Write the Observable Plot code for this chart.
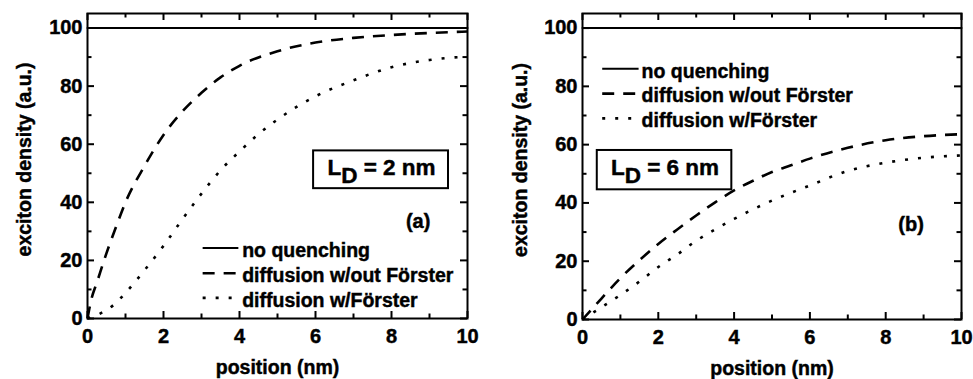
<!DOCTYPE html>
<html><head><meta charset="utf-8">
<script src="https://cdn.jsdelivr.net/npm/d3@7"></script>
<script src="https://cdn.jsdelivr.net/npm/@observablehq/plot@0.6"></script>
<style>
body{margin:0;background:#fff;}
#wrap{display:flex;width:973px;height:379px;overflow:hidden;}
</style></head><body><div id="wrap"></div>
<script>
// ---------- data ----------
const xMajorTicks = [0, 2, 4, 6, 8, 10];
const xMinorTicks = [1, 3, 5, 7, 9];
const yMajorTicks = [0, 20, 40, 60, 80, 100];
const yMinorTicks = [10, 30, 50, 70, 90];
const seriesNames = ["no quenching", "diffusion w/out Förster", "diffusion w/Förster"];
const xLabel = "position (nm)";
const yLabel = "exciton density (a.u.)";
const panelLabels = ["(a)", "(b)"];
const diffLengths = ["2 nm", "6 nm"];

const noQuenchX = [0, 10];
const noQuenchY = [100, 100];

// panel (a), L_D = 2 nm
const posA_noF = [0, 0.1, 0.25, 0.5, 0.75, 1, 1.5, 2, 2.5, 3, 3.5, 4, 5, 6, 7, 8, 9, 10];
const denA_noF = [0, 6.5, 12.5, 22.5, 31.5, 40, 52.5, 63.2, 71.3, 77.7, 83, 87, 92, 95, 96.6, 97.6, 98.3, 98.8];
const posA_F = [0, 0.3, 0.7, 1, 1.5, 2, 2.5, 3, 3.5, 4, 4.5, 5, 6, 7, 8, 9, 10];
const denA_F = [0, 1.5, 4.8, 8.8, 16.6, 25, 34.2, 43, 51, 57.5, 63.5, 68.5, 76.5, 82, 86.5, 89, 90.2];

// panel (b), L_D = 6 nm
const posB_noF = [0, 0.5, 1, 1.5, 2, 2.5, 3, 3.5, 4, 4.5, 5, 5.5, 6, 7, 8, 9, 10];
const denB_noF = [0, 7.2, 14.2, 20.3, 25.9, 30.9, 35.7, 40.2, 44.3, 47.6, 50.6, 52.9, 55.2, 58.9, 61.5, 62.9, 63.6];
const posB_F = [0, 0.5, 1, 1.5, 2, 2.5, 3, 3.5, 4, 4.5, 5, 6, 7, 8, 9, 10];
const denB_F = [0, 4.2, 8.4, 13, 18, 22.3, 27, 30.9, 34.5, 37.8, 40.8, 46, 51, 53.8, 55.5, 56.3];

// ---------- layout ----------
const FONT = "'Liberation Sans', Arial, Helvetica, sans-serif";
const dashes = [null, "12,9", "3,10"];
const panels = [
  {
    width: 490, ml: 87, mr: 23, mt: 13, mb: 61,
    noF: [posA_noF, denA_noF], F: [posA_F, denA_F],
    leg: {x1: 3.03, x2: 3.97, tx: 4.07, ys: [24.3, 15.6, 7.1]},
    box: {x1: 5.95, x2: 9.5, y1: 44.7, y2: 57.7, ty: 49.1},
    lab: {x: 8.7, y: 31.1}, ylDx: -63
  },
  {
    width: 483, ml: 92, mr: 12, mt: 13, mb: 60,
    noF: [posB_noF, denB_noF], F: [posB_F, denB_F],
    leg: {x1: 0.52, x2: 1.48, tx: 1.56, ys: [86.0, 77.5, 69.0]},
    box: {x1: 0.39, x2: 3.94, y1: 44.5, y2: 58.0, ty: 49.3},
    lab: {x: 8.67, y: 30.5}, ylDx: -62
  }
];

const zip = (xs, ys) => xs.map((x, i) => ({x, y: ys[i]}));

panels.forEach((L, pi) => {
  const height = 379;
  const innerH = height - L.mt - L.mb;
  const innerW = L.width - L.ml - L.mr;
  const majLen = 7, minLen = 4.5;
  const legRows = L.leg.ys.map((y, i) => ({x1: L.leg.x1, x2: L.leg.x2, y}));

  const svg = Plot.plot({
    width: L.width, height,
    marginLeft: L.ml, marginRight: L.mr, marginTop: L.mt, marginBottom: L.mb,
    x: {domain: [0, 10]},
    y: {domain: [0, 105]},
    style: {fontFamily: FONT, fontWeight: "bold", fontSize: "19px", color: "black", background: "white"},
    marks: [
      // curves
      Plot.line(zip(noQuenchX, noQuenchY), {x: "x", y: "y", stroke: "black", strokeWidth: 2}),
      Plot.line(zip(...L.noF), {x: "x", y: "y", stroke: "black", strokeWidth: 2.6, strokeDasharray: dashes[1], curve: "monotone-x", strokeLinecap: "butt"}),
      Plot.line(zip(...L.F), {x: "x", y: "y", stroke: "black", strokeWidth: 2.6, strokeDasharray: dashes[2], curve: "monotone-x", strokeLinecap: "butt"}),
      // inward ticks on all four sides
      Plot.tickX(xMajorTicks, {x: d => d, insetTop: innerH - majLen, strokeWidth: 2}),
      Plot.tickX(xMajorTicks, {x: d => d, insetBottom: innerH - majLen, strokeWidth: 2}),
      Plot.tickX(xMinorTicks, {x: d => d, insetTop: innerH - minLen, strokeWidth: 2}),
      Plot.tickX(xMinorTicks, {x: d => d, insetBottom: innerH - minLen, strokeWidth: 2}),
      Plot.tickY(yMajorTicks, {y: d => d, insetRight: innerW - majLen, strokeWidth: 2}),
      Plot.tickY(yMajorTicks, {y: d => d, insetLeft: innerW - majLen, strokeWidth: 2}),
      Plot.tickY(yMinorTicks, {y: d => d, insetRight: innerW - minLen, strokeWidth: 2}),
      Plot.tickY(yMinorTicks, {y: d => d, insetLeft: innerW - minLen, strokeWidth: 2}),
      Plot.frame({stroke: "black", strokeWidth: 2}),
      // tick labels
      Plot.axisX({ticks: xMajorTicks, tickSize: 0, tickPadding: 10, label: null, fontSize: 20}),
      Plot.axisY({ticks: yMajorTicks, tickSize: 0, tickPadding: 5, label: null, fontSize: 20}),
      // axis titles
      Plot.text([xLabel], {text: d => d, frameAnchor: "bottom", lineAnchor: "bottom", dy: 55, fontSize: 19.5}),
      Plot.text([yLabel], {text: d => d, frameAnchor: "left", rotate: -90, dx: L.ylDx, dy: -6.5, lineAnchor: "middle", textAnchor: "middle", fontSize: 19.5}),
      // legend
      ...legRows.map((r, i) => Plot.link([r], {x1: "x1", x2: "x2", y1: "y", y2: "y", stroke: "black", strokeWidth: i === 0 ? 2 : 2.6, strokeDasharray: dashes[i]})),
      Plot.text(seriesNames, {x: () => L.leg.tx, y: (d, i) => L.leg.ys[i], text: d => d, textAnchor: "start", lineAnchor: "middle", dy: 2.5, fontSize: 19.5}),
      // L_D box
      Plot.rect([L.box], {x1: "x1", x2: "x2", y1: "y1", y2: "y2", fill: "white", stroke: "black", strokeWidth: 2}),
      // panel label
      Plot.text([panelLabels[pi]], {x: () => L.lab.x, y: () => L.lab.y, text: d => d, lineAnchor: "bottom", fontSize: 20})
    ]
  });

  // L_D label with subscript, placed through the plot's scales
  const sx = svg.scale("x"), sy = svg.scale("y");
  const t = d3.select(svg).append("text")
    .attr("x", sx.apply((L.box.x1 + L.box.x2) / 2) + 1)
    .attr("y", sy.apply(L.box.ty))
    .attr("text-anchor", "middle")
    .attr("fill", "black")
    .style("font-size", "22.5px")
    .style("white-space", "pre");
  t.append("tspan").text("L");
  t.append("tspan").attr("dy", 8).text("D");
  t.append("tspan").attr("dy", -8).text(" = " + diffLengths[pi]);

  // slightly heavier text, as in the scanned original
  d3.select(svg).selectAll("text").attr("stroke", "black").attr("stroke-width", 0.45);

  document.getElementById("wrap").appendChild(svg);
});
</script>
</body></html>
